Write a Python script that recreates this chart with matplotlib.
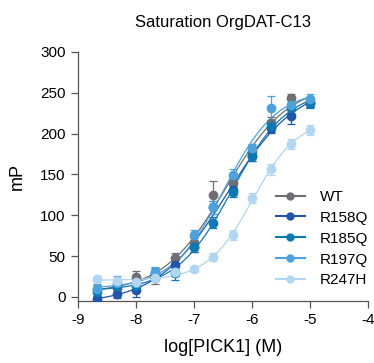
import numpy as np
import matplotlib
matplotlib.use("Agg")
import matplotlib.pyplot as plt

plt.rcParams['font.family'] = ['Liberation Sans', 'DejaVu Sans']
plt.rcParams['axes.unicode_minus'] = False

# log concentrations of PICK1 (M), 3-fold dilution
log_conc = [-8.67, -8.33, -8.0, -7.67, -7.33, -7.0, -6.67, -6.33, -6.0, -5.67, -5.33, -5.0]

wt = [10, 11, 24, 23, 48, 66, 125, 139, 179, 213, 243, 239]
wt_err = [5, 5, 8, 7, 6, 6, 17, 7, 6, 7, 6, 6]
r158q = [-3, 4, 8, 27, 39, 61, 110, 131, 172, 207, 222, 238]
r158q_err = [4, 5, 8, 6, 6, 6, 8, 6, 6, 6, 10, 6]
r185q = [6, 13, 13, 29, 29, 61, 91, 129, 172, 209, 231, 237]
r185q_err = [5, 7, 6, 6, 8, 6, 7, 7, 6, 7, 6, 6]
r197q = [10, 17, 17, 31, 31, 76, 110, 149, 182, 231, 235, 242]
r197q_err = [6, 8, 6, 6, 6, 6, 8, 8, 5, 15, 7, 7]
r247h = [22, 20, 18, 23, 30, 34, 49, 76, 121, 156, 187, 204]
r247h_err = [4, 4, 4, 4, 4, 4, 5, 6, 6, 7, 6, 6]

names = ['WT', 'R158Q', 'R185Q', 'R197Q', 'R247H']
series = [wt, r158q, r185q, r197q, r247h]
errors = [wt_err, r158q_err, r185q_err, r197q_err, r247h_err]
colors = ['#6e6f72', '#2254a8', '#0d79b0', '#4da2dd', '#b0d6f2']


def fit_logistic(x, y):
    # 4PL fit: grid over logEC50 and hill, bottom/top by linear least squares
    x = np.asarray(x)
    y = np.asarray(y, dtype=float)
    best = None
    for ec in np.arange(-7.5, -5.0, 0.01):
        for h in np.arange(0.4, 2.0, 0.02):
            s = 1.0 / (1.0 + 10 ** ((ec - x) * h))
            A = np.column_stack([1 - s, s])
            coef, *_ = np.linalg.lstsq(A, y, rcond=None)
            r = np.sum((A @ coef - y) ** 2)
            if best is None or r < best[0]:
                best = (r, coef[0], coef[1], ec, h)
    return best[1:]


fig = plt.figure(figsize=(3.74, 3.63), dpi=100)
ax = fig.add_axes([0.2086, 0.171, 0.7754, 0.686])

xs = np.linspace(min(log_conc), max(log_conc), 200)
for name, y, e, c in zip(names, series, errors, colors):
    bot, top, ec, h = fit_logistic(log_conc, y)
    ax.plot(xs, bot + (top - bot) / (1 + 10 ** ((ec - xs) * h)), color=c, lw=0.9)
    ax.errorbar(log_conc, y, yerr=e, fmt='o', color=c, ms=6, elinewidth=0.9,
                capsize=3, capthick=0.9, zorder=3)
    ax.plot([], [], '-o', color=c, lw=1.5, ms=5, label=name)

ax.set_xlim(-9, -4)
ax.set_ylim(-5, 300)
ax.set_xticks([-9, -8, -7, -6, -5, -4])
ax.set_yticks([0, 50, 100, 150, 200, 250, 300])
for sp in ['top', 'right']:
    ax.spines[sp].set_visible(False)
for sp in ['left', 'bottom']:
    ax.spines[sp].set_color('#555555')
    ax.spines[sp].set_linewidth(0.9)
ax.tick_params(direction='out', length=5, width=0.9, color='#555555',
               labelsize=11, pad=4)

ax.set_xlabel('log[PICK1] (M)', fontsize=13, labelpad=8)
ax.set_ylabel('mP', fontsize=13, labelpad=10)
ax.set_title('Saturation OrgDAT-C13', fontsize=12, pad=18)

ax.legend(loc='center left', bbox_to_anchor=(0.635, 0.25), frameon=False,
          fontsize=11, handlelength=1.9, handletextpad=1.0, labelspacing=0.45)

fig.savefig('out.png', dpi=100)
